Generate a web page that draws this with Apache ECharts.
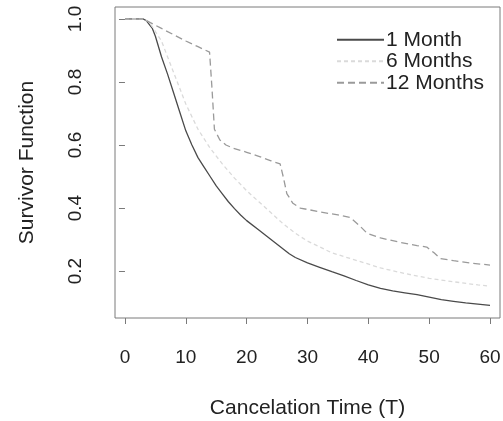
<!DOCTYPE html>
<html>
<head>
<meta charset="utf-8">
<script src="https://cdn.jsdelivr.net/npm/echarts@6/dist/echarts.min.js"></script>
<style>
  html, body { margin: 0; padding: 0; background: #fff; }
  #chart { width: 503px; height: 421px; }
</style>
</head>
<body>
<div id="chart"></div>
<script>
// Survivor function estimates by contract length
const seriesNames = ['1 Month', '6 Months', '12 Months'];

const oneMonth = [
  [0, 1], [3, 1], [3.5, 0.995], [4.5, 0.97], [5, 0.945], [6, 0.88], [7, 0.825],
  [8, 0.765], [9, 0.705], [10, 0.645], [11, 0.6], [12, 0.56], [13, 0.53],
  [14, 0.5], [15, 0.47], [16, 0.445], [17, 0.42], [18, 0.398], [19, 0.378],
  [20, 0.36], [22, 0.33], [24, 0.3], [26, 0.27], [27, 0.255], [28, 0.243],
  [30, 0.226], [32, 0.212], [34, 0.198], [36, 0.185], [38, 0.17], [40, 0.156],
  [42, 0.145], [44, 0.137], [46, 0.131], [48, 0.125], [50, 0.117], [52, 0.109],
  [54, 0.104], [56, 0.099], [58, 0.095], [60, 0.091]
];

const sixMonths = [
  [0, 1], [3, 1], [4, 0.99], [6, 0.93], [8, 0.83], [10, 0.73], [12, 0.65],
  [14, 0.59], [16, 0.54], [18, 0.495], [20, 0.455], [22, 0.42], [24, 0.385],
  [26, 0.35], [28, 0.32], [30, 0.295], [34, 0.258], [38, 0.234], [42, 0.21],
  [46, 0.192], [50, 0.177], [54, 0.166], [58, 0.156], [60, 0.152]
];

const twelveMonths = [
  [0, 1], [3, 1], [4, 0.99], [6, 0.97], [8, 0.95], [10, 0.93], [12, 0.912],
  [13.9, 0.895], [14.3, 0.78], [14.7, 0.65], [15.6, 0.616], [16.6, 0.6],
  [17.8, 0.59], [20, 0.577], [22, 0.564], [24, 0.55], [25.5, 0.54],
  [26, 0.5], [26.6, 0.446], [27.6, 0.415], [28.8, 0.4], [32, 0.388],
  [35, 0.378], [37, 0.37], [38.5, 0.345], [39.8, 0.32], [42, 0.305],
  [45, 0.292], [48, 0.281], [49.6, 0.276], [50.8, 0.258], [51.8, 0.24],
  [54, 0.233], [57, 0.225], [60, 0.219]
];

const xTicks = [0, 10, 20, 30, 40, 50, 60];
const yTicks = [0.2, 0.4, 0.6, 0.8, 1.0];

const font = 'Liberation Sans, Arial, Helvetica, sans-serif';
const chart = echarts.init(document.getElementById('chart'), null, { renderer: 'canvas' });

chart.setOption({
  animation: false,
  backgroundColor: '#ffffff',
  grid: {
    left: 115, top: 7, width: 385, height: 311,
    outerBoundsMode: 'none', containLabel: false,
    show: true, borderColor: '#7a7a7a', borderWidth: 1,
    backgroundColor: 'transparent'
  },
  legend: {
    orient: 'vertical',
    left: 336, top: 29,
    itemWidth: 47, itemHeight: 14, itemGap: 0,
    padding: 0,
    data: seriesNames,
    itemStyle: { opacity: 0 },
    textStyle: { fontFamily: font, fontSize: 21, lineHeight: 21.5, color: '#222', padding: [0, 0, 0, -3] }
  },
  xAxis: {
    type: 'value', min: -1.64, max: 61.64,
    name: 'Cancelation Time (T)', nameLocation: 'middle', nameGap: 80,
    nameTextStyle: { fontFamily: font, fontSize: 21, color: '#222' },
    splitLine: { show: false },
    axisLine: { show: false },
    axisTick: { show: true, length: 6, customValues: xTicks, lineStyle: { color: '#7a7a7a' } },
    axisLabel: {
      customValues: xTicks, margin: 30,
      fontFamily: font, fontSize: 19, color: '#222',
      formatter: v => String(v)
    }
  },
  yAxis: {
    type: 'value', min: 0.051, max: 1.038,
    name: 'Survivor Function', nameLocation: 'middle', nameGap: 77,
    nameTextStyle: { fontFamily: font, fontSize: 21, color: '#222' },
    splitLine: { show: false },
    axisLine: { show: false },
    axisTick: { show: true, length: 6, customValues: yTicks, lineStyle: { color: '#7a7a7a' } },
    axisLabel: {
      customValues: yTicks, rotate: 90, margin: 30,
      fontFamily: font, fontSize: 19, color: '#222',
      formatter: v => v.toFixed(1)
    }
  },
  series: [
    {
      name: seriesNames[0], type: 'line', data: oneMonth, symbol: 'none', smooth: false,
      lineStyle: { color: '#4a4a4a', width: 1.3, type: 'solid' },
      itemStyle: { color: '#4a4a4a' }
    },
    {
      name: seriesNames[1], type: 'line', data: sixMonths, symbol: 'none',
      lineStyle: { color: '#dadada', width: 1.3, type: [4, 3] },
      itemStyle: { color: '#dadada' }
    },
    {
      name: seriesNames[2], type: 'line', data: twelveMonths, symbol: 'none',
      lineStyle: { color: '#9a9a9a', width: 1.3, type: [7, 4] },
      itemStyle: { color: '#9a9a9a' }
    }
  ]
});
</script>
</body>
</html>
